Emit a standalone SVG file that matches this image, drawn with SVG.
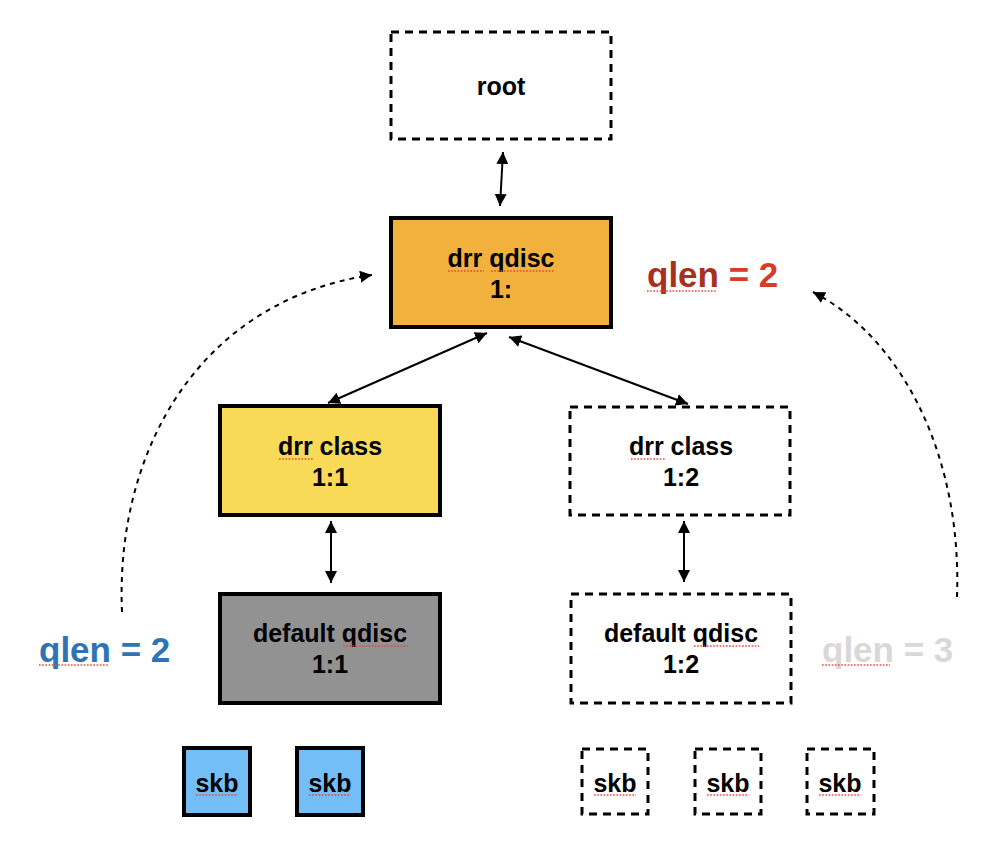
<svg xmlns="http://www.w3.org/2000/svg" width="992" height="848" viewBox="0 0 992 848">
<style>
.box{stroke:#000;stroke-width:4}
.dash{fill:#fff;stroke:#000;stroke-width:3;stroke-dasharray:8 6}
.lbl{font-family:"Liberation Sans",Arial,sans-serif;font-size:25px;font-weight:bold;fill:#000;text-anchor:middle}
.qlen{font-family:"Liberation Sans",Arial,sans-serif;font-size:35px;font-weight:bold}
.conn{stroke:#000;stroke-width:2;fill:none}
.curve{stroke:#000;stroke-width:2;fill:none;stroke-dasharray:5 5}
.sq{stroke:#e5493b;stroke-width:1.6;stroke-dasharray:1.6 1.6;fill:none}
</style>
<defs>
<marker id="ah" viewBox="0 0 10 10" refX="10" refY="5" markerWidth="6" markerHeight="6" markerUnits="strokeWidth" orient="auto-start-reverse">
<path d="M0,0 L10,5 L0,10 z" fill="#000"/>
</marker>
</defs>
<rect width="992" height="848" fill="#fff"/>

<g id="connectors">
<line class="conn" x1="503" y1="152" x2="500" y2="206" marker-start="url(#ah)" marker-end="url(#ah)"/>
<line class="conn" x1="487" y1="333" x2="328" y2="403" marker-start="url(#ah)" marker-end="url(#ah)"/>
<line class="conn" x1="509" y1="337" x2="688" y2="404" marker-start="url(#ah)" marker-end="url(#ah)"/>
<line class="conn" x1="331" y1="521" x2="331" y2="583" marker-start="url(#ah)" marker-end="url(#ah)"/>
<line class="conn" x1="684" y1="521" x2="684" y2="582" marker-start="url(#ah)" marker-end="url(#ah)"/>
<path class="curve" d="M122,612 C115,450 200,300 372,275" marker-end="url(#ah)"/>
<path class="curve" d="M957,597 C962,460 905,340 813,292" marker-end="url(#ah)"/>
</g>

<g id="root">
<rect class="dash" x="391" y="32" width="220" height="107"/>
<text class="lbl" x="501" y="95">root</text>
</g>

<g id="drr-qdisc">
<rect class="box" x="391" y="218" width="220" height="109" fill="#F1B13C"/>
<text class="lbl" x="501" y="267">drr qdisc</text>
<text class="lbl" x="501" y="298">1:</text>
</g>

<g id="drr-class-1-1">
<rect class="box" x="220" y="406" width="220" height="109" fill="#F8DA58"/>
<text class="lbl" x="330" y="455">drr class</text>
<text class="lbl" x="330" y="486">1:1</text>
</g>

<g id="drr-class-1-2">
<rect class="dash" x="570" y="407" width="220" height="108"/>
<text class="lbl" x="681" y="455">drr class</text>
<text class="lbl" x="681" y="486">1:2</text>
</g>

<g id="default-qdisc-1-1">
<rect class="box" x="220" y="594" width="220" height="109" fill="#929292"/>
<text class="lbl" x="330" y="642">default qdisc</text>
<text class="lbl" x="330" y="673">1:1</text>
</g>

<g id="default-qdisc-1-2">
<rect class="dash" x="571" y="594" width="220" height="109"/>
<text class="lbl" x="681" y="642">default qdisc</text>
<text class="lbl" x="681" y="673">1:2</text>
</g>

<g id="skb-1">
<rect class="box" x="184" y="748" width="66" height="67" fill="#73BEF7"/>
<text class="lbl" x="217" y="792">skb</text>
</g>
<g id="skb-2">
<rect class="box" x="297" y="748" width="66" height="67" fill="#73BEF7"/>
<text class="lbl" x="330" y="792">skb</text>
</g>
<g id="skb-3">
<rect class="dash" x="582" y="749" width="66" height="65"/>
<text class="lbl" x="615" y="792">skb</text>
</g>
<g id="skb-4">
<rect class="dash" x="695" y="749" width="66" height="65"/>
<text class="lbl" x="728" y="792">skb</text>
</g>
<g id="skb-5">
<rect class="dash" x="807" y="749" width="67" height="65"/>
<text class="lbl" x="840" y="792">skb</text>
</g>

<g id="qlen-red">
<text class="qlen" x="647" y="287"><tspan fill="#A8301F">qlen</tspan><tspan fill="#D93B2B"> = 2</tspan></text>
</g>
<g id="qlen-blue">
<text class="qlen" x="39" y="662" fill="#2F73B6">qlen = 2</text>
</g>
<g id="qlen-gray">
<text class="qlen" x="822" y="662" fill="#D8D8D8">qlen = 3</text>
</g>

<g id="spellcheck">
<line class="sq" x1="448" y1="271" x2="484" y2="271"/>
<line class="sq" x1="491" y1="271" x2="555" y2="271"/>
<line class="sq" x1="647" y1="291" x2="716" y2="291"/>
<line class="sq" x1="279" y1="459" x2="313" y2="459"/>
<line class="sq" x1="631" y1="459" x2="665" y2="459"/>
<line class="sq" x1="343" y1="646" x2="408" y2="646"/>
<line class="sq" x1="694" y1="646" x2="759" y2="646"/>
<line class="sq" x1="39" y1="665" x2="108" y2="665"/>
<line class="sq" x1="822" y1="665" x2="890" y2="665"/>
<line class="sq" x1="196" y1="795" x2="238" y2="795"/>
<line class="sq" x1="309" y1="795" x2="351" y2="795"/>
<line class="sq" x1="594" y1="795" x2="636" y2="795"/>
<line class="sq" x1="707" y1="795" x2="749" y2="795"/>
<line class="sq" x1="819" y1="795" x2="861" y2="795"/>
</g>
</svg>
